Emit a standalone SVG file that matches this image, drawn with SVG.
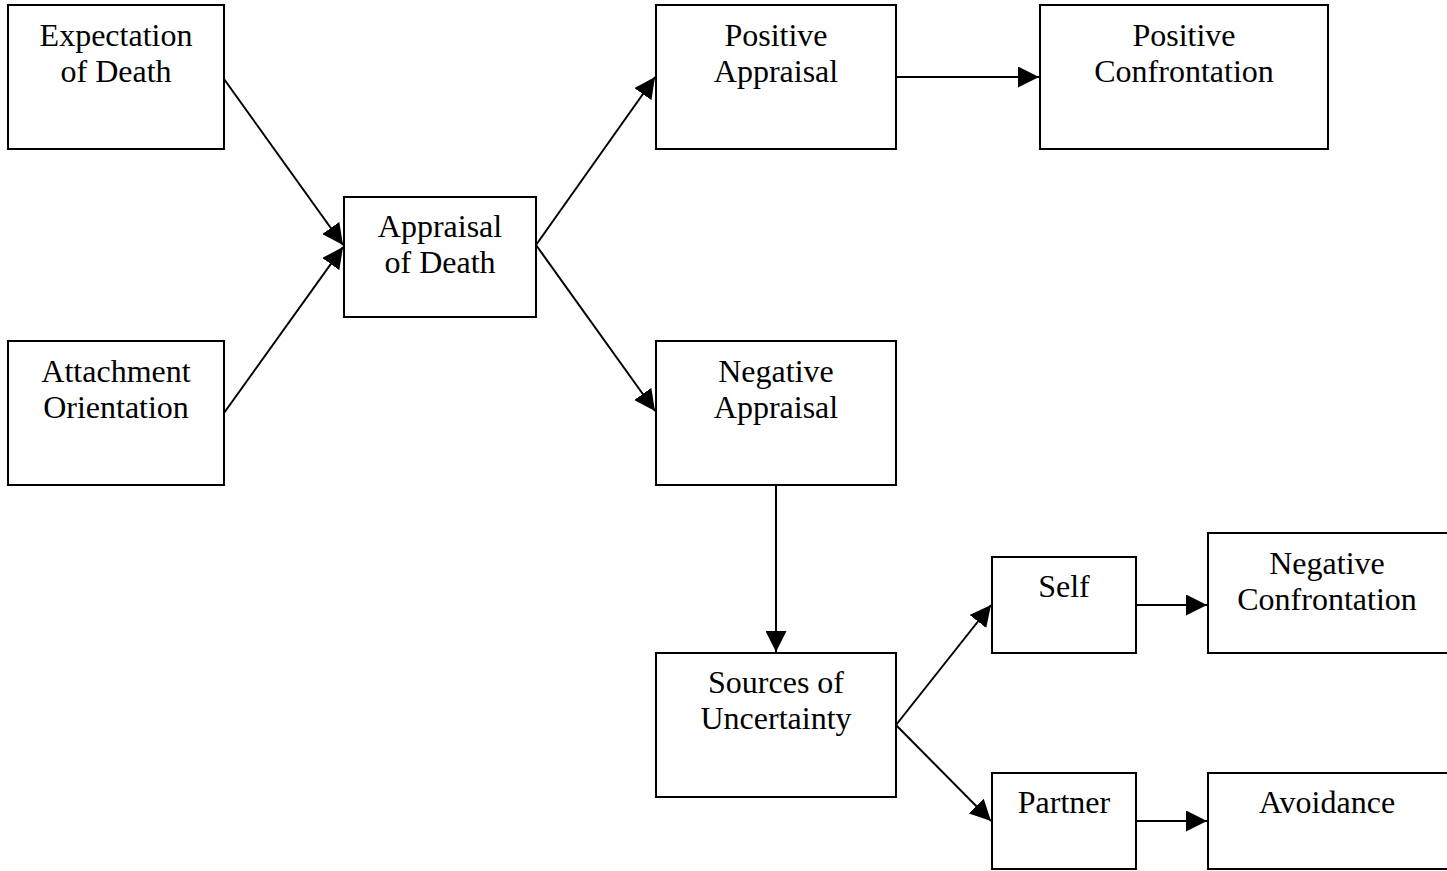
<svg xmlns="http://www.w3.org/2000/svg" width="1447" height="871" viewBox="0 0 1447 871">
<style>
.box{fill:#fff;stroke:#000;stroke-width:2}
.lbl{font-family:"Liberation Serif","Times New Roman",serif;font-size:32px;fill:#000;text-anchor:middle}
.edge{fill:none;stroke:#000;stroke-width:2;marker-end:url(#ah)}
</style>
<defs>
<marker id="ah" markerUnits="userSpaceOnUse" markerWidth="21" markerHeight="21" refX="21" refY="10.5" orient="auto" viewBox="0 0 21 21">
<path d="M0,0 L21,10.5 L0,21 z" fill="#000"/>
</marker>
</defs>
<rect width="1447" height="871" fill="#fff"/>
<g id="connectors">
<line class="edge" x1="224" y1="79" x2="343" y2="245"/>
<line class="edge" x1="224" y1="413" x2="343" y2="247"/>
<line class="edge" x1="536" y1="245" x2="655" y2="77"/>
<line class="edge" x1="536" y1="245" x2="655" y2="411"/>
<line class="edge" x1="896" y1="77" x2="1039" y2="77"/>
<line class="edge" x1="776" y1="485" x2="776" y2="652"/>
<line class="edge" x1="896" y1="725" x2="991" y2="605"/>
<line class="edge" x1="896" y1="725" x2="991" y2="821"/>
<line class="edge" x1="1136" y1="605" x2="1207" y2="605"/>
<line class="edge" x1="1136" y1="821" x2="1207" y2="821"/>
</g>
<g id="n-expectation">
<rect class="box" x="8" y="5" width="216" height="144"/>
<text class="lbl" x="116" y="46">Expectation</text>
<text class="lbl" x="116" y="82">of Death</text>
</g>
<g id="n-attachment">
<rect class="box" x="8" y="341" width="216" height="144"/>
<text class="lbl" x="116" y="382">Attachment</text>
<text class="lbl" x="116" y="418">Orientation</text>
</g>
<g id="n-appraisal">
<rect class="box" x="344" y="197" width="192" height="120"/>
<text class="lbl" x="440" y="237">Appraisal</text>
<text class="lbl" x="440" y="273">of Death</text>
</g>
<g id="n-positive-appraisal">
<rect class="box" x="656" y="5" width="240" height="144"/>
<text class="lbl" x="776" y="46">Positive</text>
<text class="lbl" x="776" y="82">Appraisal</text>
</g>
<g id="n-positive-confrontation">
<rect class="box" x="1040" y="5" width="288" height="144"/>
<text class="lbl" x="1184" y="46">Positive</text>
<text class="lbl" x="1184" y="82">Confrontation</text>
</g>
<g id="n-negative-appraisal">
<rect class="box" x="656" y="341" width="240" height="144"/>
<text class="lbl" x="776" y="382">Negative</text>
<text class="lbl" x="776" y="418">Appraisal</text>
</g>
<g id="n-sources">
<rect class="box" x="656" y="653" width="240" height="144"/>
<text class="lbl" x="776" y="693">Sources of</text>
<text class="lbl" x="776" y="729">Uncertainty</text>
</g>
<g id="n-self">
<rect class="box" x="992" y="557" width="144" height="96"/>
<text class="lbl" x="1064" y="597">Self</text>
</g>
<g id="n-partner">
<rect class="box" x="992" y="773" width="144" height="96"/>
<text class="lbl" x="1064" y="813">Partner</text>
</g>
<g id="n-negative-confrontation">
<rect class="box" x="1208" y="533" width="242" height="120"/>
<text class="lbl" x="1327" y="574">Negative</text>
<text class="lbl" x="1327" y="610">Confrontation</text>
</g>
<g id="n-avoidance">
<rect class="box" x="1208" y="773" width="242" height="96"/>
<text class="lbl" x="1327" y="813">Avoidance</text>
</g>
</svg>
